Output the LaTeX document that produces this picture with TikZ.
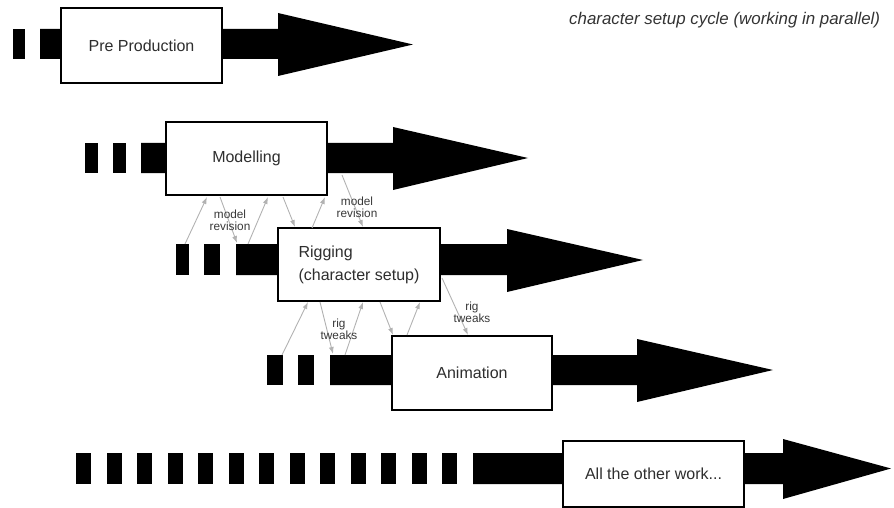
\documentclass[tikz,border=0pt]{standalone}
\usepackage{fontspec}
\setmainfont{Liberation Sans}
\usetikzlibrary{arrows.meta}
\begin{document}
\begin{tikzpicture}[x=1pt,y=-1pt,
  stagebox/.style={draw=black,line width=1.6pt,fill=white,inner sep=0pt,text=black!82,font=\fontsize{16}{23}\selectfont},
  feedback/.style={draw=black!30,line width=0.9pt,-{Latex[length=7pt,width=5pt]}},
  note/.style={font=\fontsize{11.8}{11.8}\selectfont,text=black!78,align=center,inner sep=0pt},
  bar/.style={fill=black}]
\useasboundingbox (0,0) rectangle (894,508);

% ---- row 1: Pre Production
\fill[bar] (13,29) rectangle (25,59);
\fill[bar] (40,29) -- (278,29) -- (278,13) -- (413,44.5) -- (278,76) -- (278,59) -- (40,59) -- cycle;
\node[stagebox,minimum width=161pt,minimum height=75pt] (pre) at (141.5,45.5) {Pre Production};

% ---- row 2: Modelling
\fill[bar] (85,143) rectangle (98,173);
\fill[bar] (113,143) rectangle (126,173);
\fill[bar] (141,143) -- (393,143) -- (393,127) -- (528,158) -- (393,190) -- (393,173) -- (141,173) -- cycle;
\node[stagebox,minimum width=161pt,minimum height=73pt] (mod) at (246.5,158.5) {Modelling};

% ---- row 3: Rigging
\fill[bar] (176,244) rectangle (189,275);
\fill[bar] (204,244) rectangle (220,275);
\fill[bar] (236,244) -- (507,244) -- (507,229) -- (643,260) -- (507,292) -- (507,275) -- (236,275) -- cycle;
\node[stagebox,minimum width=162pt,minimum height=73pt,align=left] (rig) at (359,264.5) {Rigging\\(character setup)};

% ---- row 4: Animation
\fill[bar] (267,355) rectangle (283,385);
\fill[bar] (298,355) rectangle (314,385);
\fill[bar] (330,355) -- (637,355) -- (637,339) -- (773,370) -- (637,402) -- (637,385) -- (330,385) -- cycle;
\node[stagebox,minimum width=160pt,minimum height=74pt] (ani) at (472,373) {Animation};

% ---- row 5: All the other work
\foreach \i in {0,...,12} {
  \fill[bar] ({76+30.5*\i},453) rectangle ({91+30.5*\i},484);
}
\fill[bar] (473,453) -- (783,453) -- (783,439) -- (891,468.5) -- (783,499) -- (783,484) -- (473,484) -- cycle;
\node[stagebox,minimum width=181pt,minimum height=66pt] (other) at (653.5,474) {All the other work...};

% ---- title
\node[font=\fontsize{16.9}{18}\selectfont\itshape,text=black!80,anchor=west,inner sep=0pt] (title) at (569,20) {character setup cycle (working in parallel)};

% ---- feedback arrows Modelling <-> Rigging
\coordinate (a1s) at (185,244); \coordinate (a1e) at (207,197);
\coordinate (a2s) at (220,197); \coordinate (a2e) at (237,243);
\coordinate (a3s) at (248,244); \coordinate (a3e) at (268,197);
\coordinate (a4s) at (283,197); \coordinate (a4e) at (295,227);
\coordinate (a5s) at (312,228); \coordinate (a5e) at (325,197);
\coordinate (a6s) at (342,175); \coordinate (a6e) at (363,227);
\foreach \k in {1,...,6} { \draw[feedback] (a\k s) -- (a\k e); }
\node[note] (mr1) at (230,220.5) {model\\revision};
\node[note] (mr2) at (357,207) {model\\revision};

% ---- feedback arrows Rigging <-> Animation
\coordinate (b1s) at (282,355); \coordinate (b1e) at (308,302);
\coordinate (b2s) at (320,302); \coordinate (b2e) at (333,354);
\coordinate (b3s) at (345,355); \coordinate (b3e) at (363,302);
\coordinate (b4s) at (380,302); \coordinate (b4e) at (393,335);
\coordinate (b5s) at (407,335); \coordinate (b5e) at (420,302);
\coordinate (b6s) at (442,278); \coordinate (b6e) at (468,335);
\foreach \k in {1,...,6} { \draw[feedback] (b\k s) -- (b\k e); }
\node[note] (rt1) at (339,329) {rig\\tweaks};
\node[note] (rt2) at (472,312) {rig\\tweaks};
\end{tikzpicture}
\end{document}
